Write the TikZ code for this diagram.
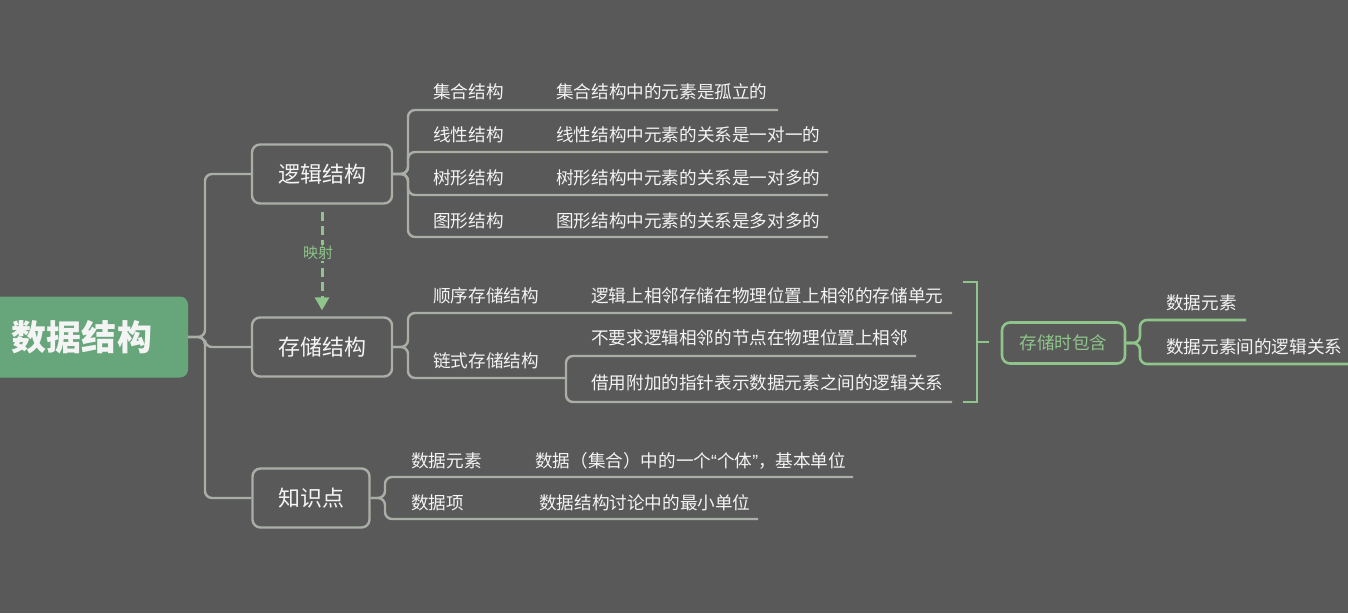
\documentclass[tikz,border=0pt]{standalone}
\usepackage{fontspec}
\setmainfont{Noto Sans CJK SC}
\newfontfamily\qfont{Liberation Sans}
\usetikzlibrary{arrows.meta}
\definecolor{bg}{HTML}{595959}
\definecolor{rootg}{HTML}{67A57B}
\definecolor{lg}{HTML}{A9AFA6}
\definecolor{gg}{HTML}{8FC48A}
\definecolor{gt}{HTML}{8FC48A}
\definecolor{tx}{HTML}{F4F4F4}
\tikzset{
  conn/.style={draw=lg, line width=2.4pt, rounded corners=7pt},
  gconn/.style={draw=gg, line width=2.6pt, rounded corners=7pt},
  mainbox/.style={draw=lg, line width=2.4pt, rounded corners=8pt, fill=bg, text=tx,
    minimum height=59pt, inner sep=0pt, font=\fontsize{22}{26}\selectfont},
  lab/.style={anchor=west, text=tx, inner sep=0pt, font=\fontsize{17.6}{20}\selectfont},
}
\begin{document}
\begin{tikzpicture}[x=1pt,y=-1pt]
\fill[bg] (0,0) rectangle (1348,613);
\useasboundingbox (0,0) rectangle (1348,613);

% root
\node[fill=rootg, rounded corners=8pt, minimum width=208pt, minimum height=81pt, inner sep=0pt] (root) at (84,337) {};
\node[text=tx, inner sep=0pt, font=\bfseries\fontsize{35}{40}\selectfont] (roott) at (82,337) {数据结构};

% main boxes
\node[mainbox, minimum width=140pt] (log) at (322,174) {逻辑结构};
\node[mainbox, minimum width=140pt] (cun) at (322,347) {存储结构};
\node[mainbox, minimum width=117pt] (zhi) at (311,498) {知识点};

% spine
\coordinate (sp) at (205,337);
\draw[conn] (root.east) -- (sp) |- (log.west);
\draw[conn] (root.east) -- (sp) |- (cun.west);
\draw[conn] (root.east) -- (sp) |- (zhi.west);

% mapping arrow
\draw[draw=gg, line width=3pt, dash pattern=on 9pt off 5pt,
  -{Triangle[width=14pt,length=13pt]}, shorten <=7pt, shorten >=6pt] (log.south) -- (cun.north);
\node[fill=bg, text=gt, inner sep=1.5pt, font=\fontsize{15}{18}\selectfont] (ys) at (318,253) {映射};

% logical children
\node[lab] (l1) at (433,92) {集合结构};
\node[lab] (d1) at (556,92) {集合结构中的元素是孤立的};
\node[lab] (l2) at (433,135) {线性结构};
\node[lab] (d2) at (556,135) {线性结构中元素的关系是一对一的};
\node[lab] (l3) at (433,178) {树形结构};
\node[lab] (d3) at (556,178) {树形结构中元素的关系是一对多的};
\node[lab] (l4) at (433,221) {图形结构};
\node[lab] (d4) at (556,221) {图形结构中元素的关系是多对多的};
\coordinate (lb) at (408,174);
\draw[conn] (log.east) -- (lb) |- (778,110);
\draw[conn] (log.east) -- (lb) |- (828,152);
\draw[conn] (log.east) -- (lb) |- (828,195);
\draw[conn] (log.east) -- (lb) |- (828,237);

% storage children
\node[lab] (s1) at (433,296) {顺序存储结构};
\node[lab] (e1) at (591,296) {逻辑上相邻存储在物理位置上相邻的存储单元};
\node[lab] (s2) at (433,361) {链式存储结构};
\node[lab] (e2) at (591,338) {不要求逻辑相邻的节点在物理位置上相邻};
\node[lab] (e3) at (591,383) {借用附加的指针表示数据元素之间的逻辑关系};
\coordinate (cb) at (408,347);
\coordinate (sb) at (566,378);
\draw[conn] (cun.east) -- (cb) |- (952,313);
\draw[conn] (cun.east) -- (cb) |- (sb);
\draw[conn] (sb) |- (916,356);
\draw[conn] (sb) |- (952,402);

% summary bracket
\node[draw=gg, line width=2.6pt, rounded corners=8pt, minimum width=123pt, minimum height=41pt,
  inner sep=0pt, text=gt, font=\fontsize{17.6}{20}\selectfont] (bao) at (1063.5,343) {存储时包含};
\draw[draw=gg, line width=2.8pt] (963,282) -- (977,282) -- (977,402) -- (963,402);
\coordinate (tk) at (989,342);
\draw[draw=gg, line width=2.6pt] (977,342) -- (tk);
\node[lab] (g1) at (1166,303) {数据元素};
\node[lab] (g2) at (1166,347) {数据元素间的逻辑关系};
\coordinate (gb) at (1140,343);
\draw[gconn] (bao.east) -- (gb) |- (1246,320);
\draw[gconn] (bao.east) -- (gb) |- (1360,364);

% knowledge children
\node[lab] (k1) at (411,461) {数据元素};
\node[lab] (f1) at (535,461) {数据（集合）中的一个{\qfont “}个体{\qfont ”}，基本单位};
\node[lab] (k2) at (411,503) {数据项};
\node[lab] (f2) at (539,503) {数据结构讨论中的最小单位};
\coordinate (kb) at (385,498);
\draw[conn] (zhi.east) -- (kb) |- (853,477);
\draw[conn] (zhi.east) -- (kb) |- (758,519);
\end{tikzpicture}
\end{document}
